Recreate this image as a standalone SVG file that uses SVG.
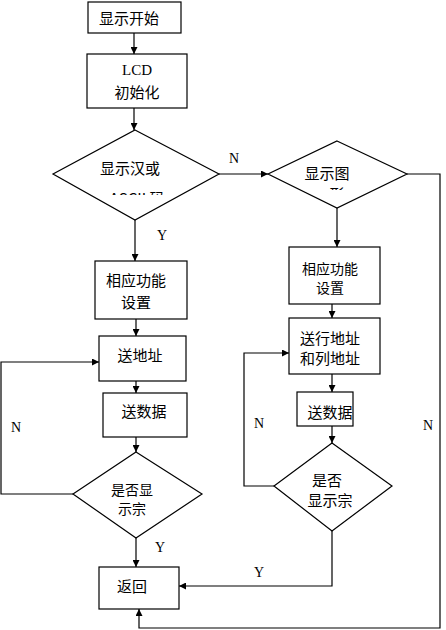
<svg xmlns="http://www.w3.org/2000/svg" width="446" height="630" viewBox="0 0 446 630">
<style>
.box{fill:#fff;stroke:#000;stroke-width:1.2}
.ln{fill:none;stroke:#000;stroke-width:1.2}
.cj{font-family:"Noto Sans CJK SC","Noto Sans",sans-serif;font-size:15px;fill:#000;text-anchor:middle}
.sm{font-size:14px}
.lt{font-family:"Liberation Serif",serif;font-size:14px;fill:#000;text-anchor:middle}
</style>
<defs>
<marker id="ah" viewBox="0 0 10 10" refX="10" refY="5" markerWidth="7" markerHeight="7" markerUnits="userSpaceOnUse" orient="auto">
<path d="M0,0 L10,5 L0,10 z" fill="#000"/>
</marker>
<clipPath id="c1"><rect x="90" y="185" width="90" height="10"/></clipPath>
<clipPath id="c2"><rect x="310" y="180" width="50" height="10"/></clipPath>
</defs>
<rect width="446" height="630" fill="#fff"/>
<g id="connectors">
<path class="ln" d="M134,33 V54" marker-end="url(#ah)"/>
<path class="ln" d="M134,108 V130" marker-end="url(#ah)"/>
<path class="ln" d="M135,220 V261" marker-end="url(#ah)"/>
<path class="ln" d="M219,174 H268" marker-end="url(#ah)"/>
<path class="ln" d="M337,208 V247" marker-end="url(#ah)"/>
<path class="ln" d="M332,304 V318" marker-end="url(#ah)"/>
<path class="ln" d="M332,374 V392" marker-end="url(#ah)"/>
<path class="ln" d="M332,426 V443" marker-end="url(#ah)"/>
<path class="ln" d="M274,486 H244 V353 H289" marker-end="url(#ah)"/>
<path class="ln" d="M332,531 V586 H179" marker-end="url(#ah)"/>
<path class="ln" d="M407,174 H440 V628 H139 V609" marker-end="url(#ah)"/>
<path class="ln" d="M136,319 V336" marker-end="url(#ah)"/>
<path class="ln" d="M136,381 V393" marker-end="url(#ah)"/>
<path class="ln" d="M136,437 V452" marker-end="url(#ah)"/>
<path class="ln" d="M73,494 H1 V362 H99" marker-end="url(#ah)"/>
<path class="ln" d="M136,538 V567" marker-end="url(#ah)"/>
<text class="lt" x="234" y="163">N</text>
<text class="lt" x="162" y="240">Y</text>
<text class="lt" x="16" y="432">N</text>
<text class="lt" x="160" y="552">Y</text>
<text class="lt" x="259" y="428">N</text>
<text class="lt" x="428" y="430">N</text>
<text class="lt" x="259" y="577">Y</text>
</g>
<g id="start"><rect class="box" x="88" y="2" width="93" height="31"/><text class="cj" x="129" y="24">显示开始</text></g>
<g id="lcd-init"><rect class="box" x="87" y="54" width="100" height="54"/><text class="lt" x="137" y="75" style="font-size:15px">LCD</text><text class="cj" x="137" y="98">初始化</text></g>
<g id="decision-mode"><polygon class="box" points="135,130 219,174 135,220 53,174"/><text class="cj" x="130" y="174">显示汉或</text><text class="cj" x="137" y="204" clip-path="url(#c1)">ASCII 码</text></g>
<g id="decision-graphic"><polygon class="box" points="337,141 407,174 337,208 268,174"/><text class="cj" x="327" y="179">显示图</text><text class="cj" x="337" y="200" clip-path="url(#c2)">形</text></g>
<g id="setup-left"><rect class="box" x="95" y="261" width="92" height="58"/><text class="cj" x="136" y="286">相应功能</text><text class="cj" x="136" y="308">设置</text></g>
<g id="setup-right"><rect class="box" x="289" y="247" width="91" height="57"/><text class="cj sm" x="330" y="274">相应功能</text><text class="cj sm" x="330" y="293">设置</text></g>
<g id="send-addr"><rect class="box" x="99" y="336" width="87" height="45"/><text class="cj" x="140" y="361">送地址</text></g>
<g id="send-rowcol"><rect class="box" x="289" y="318" width="91" height="56"/><text class="cj" x="330" y="344">送行地址</text><text class="cj" x="330" y="364">和列地址</text></g>
<g id="send-data-left"><rect class="box" x="103" y="393" width="84" height="44"/><text class="cj" x="144" y="417">送数据</text></g>
<g id="send-data-right"><rect class="box" x="297" y="392" width="56" height="34"/><text class="cj" x="330" y="418">送数据</text></g>
<g id="done-left"><polygon class="box" points="136,452 202,494 136,538 73,494"/><text class="cj sm" x="132" y="495">是否显</text><text class="cj sm" x="132" y="514">示宗</text></g>
<g id="done-right"><polygon class="box" points="332,443 392,486 332,531 274,486"/><text class="cj" x="327" y="486">是否</text><text class="cj" x="330" y="506">显示宗</text></g>
<g id="return"><rect class="box" x="99" y="567" width="80" height="42"/><text class="cj" x="132" y="592">返回</text></g>
</svg>
